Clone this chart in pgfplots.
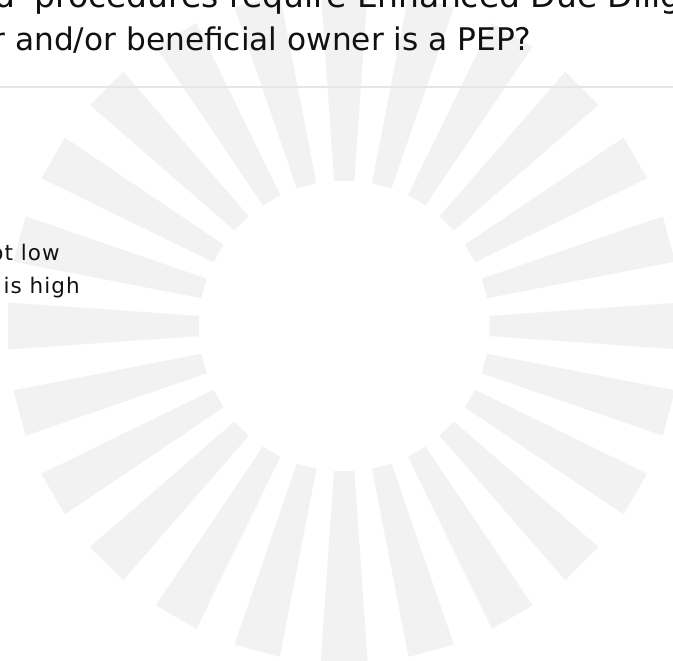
\documentclass[border=0pt]{standalone}
\usepackage{pgfplots}
\pgfplotsset{compat=1.18}
\usepackage{fontspec}
\setmainfont{DejaVu Sans}
\newfontfamily\legfont[LetterSpace=5]{DejaVu Sans}
\definecolor{spoke}{HTML}{F2F2F2}
\definecolor{rule}{HTML}{E6E6E6}
\definecolor{txt}{HTML}{111111}
\pgfplotsset{spk/.style={data cs=polar, fill=spoke, draw=none, mark=none}}
\begin{document}
\begin{tikzpicture}
\useasboundingbox (-344.2pt,-335pt) rectangle (328.8pt,326pt);
\clip (-344.2pt,-335pt) rectangle (328.8pt,326pt);
\begin{axis}[
  anchor=origin, at={(0pt,0pt)},
  scale only axis, width=673pt, height=661pt,
  xmin=-344.2, xmax=328.8, ymin=-335, ymax=326,
  hide axis, clip=true,
]
\addplot[spk] coordinates {(-4,145.5) (-4,337) (4,337) (4,145.5)};
\addplot[spk] coordinates {(11,145.5) (11,337) (19,337) (19,145.5)};
\addplot[spk] coordinates {(26,145.5) (26,337) (34,337) (34,145.5)};
\addplot[spk] coordinates {(41,145.5) (41,337) (49,337) (49,145.5)};
\addplot[spk] coordinates {(56,145.5) (56,337) (64,337) (64,145.5)};
\addplot[spk] coordinates {(71,145.5) (71,337) (79,337) (79,145.5)};
\addplot[spk] coordinates {(86,145.5) (86,337) (94,337) (94,145.5)};
\addplot[spk] coordinates {(101,145.5) (101,337) (109,337) (109,145.5)};
\addplot[spk] coordinates {(116,145.5) (116,337) (124,337) (124,145.5)};
\addplot[spk] coordinates {(131,145.5) (131,337) (139,337) (139,145.5)};
\addplot[spk] coordinates {(146,145.5) (146,337) (154,337) (154,145.5)};
\addplot[spk] coordinates {(161,145.5) (161,337) (169,337) (169,145.5)};
\addplot[spk] coordinates {(176,145.5) (176,337) (184,337) (184,145.5)};
\addplot[spk] coordinates {(191,145.5) (191,337) (199,337) (199,145.5)};
\addplot[spk] coordinates {(206,145.5) (206,337) (214,337) (214,145.5)};
\addplot[spk] coordinates {(221,145.5) (221,337) (229,337) (229,145.5)};
\addplot[spk] coordinates {(236,145.5) (236,337) (244,337) (244,145.5)};
\addplot[spk] coordinates {(251,145.5) (251,337) (259,337) (259,145.5)};
\addplot[spk] coordinates {(266,145.5) (266,337) (274,337) (274,145.5)};
\addplot[spk] coordinates {(281,145.5) (281,337) (289,337) (289,145.5)};
\addplot[spk] coordinates {(296,145.5) (296,337) (304,337) (304,145.5)};
\addplot[spk] coordinates {(311,145.5) (311,337) (319,337) (319,145.5)};
\addplot[spk] coordinates {(326,145.5) (326,337) (334,337) (334,145.5)};
\addplot[spk] coordinates {(341,145.5) (341,337) (349,337) (349,145.5)};
\addplot[draw=rule, line width=2pt, mark=none] coordinates {(-344.2,238.7) (328.8,238.7)};
\node[anchor=base east, inner sep=0pt, text=txt, font=\fontsize{33}{40}\selectfont] at (axis cs:-328.2,318) {Do your policies and};
\node[anchor=base west, inner sep=0pt, text=txt, font=\fontsize{33}{40}\selectfont] at (axis cs:-310.2,318) {procedures require Enhanced Due Diligence where the};
\node[anchor=base east, inner sep=0pt, text=txt, font=\fontsize{31.2}{38}\selectfont] at (axis cs:187.5,275) {customer and/or beneficial owner is a PEP?};
\node[anchor=base east, inner sep=0pt, text=txt, font=\legfont\fontsize{21.5}{26}\selectfont] at (axis cs:-284.2,65.3) {Yes, where the risk is not low};
\node[anchor=base east, inner sep=0pt, text=txt, font=\legfont\fontsize{21.5}{26}\selectfont] at (axis cs:-264.2,32) {Yes, where the risk is high};
\end{axis}
\end{tikzpicture}
\end{document}
